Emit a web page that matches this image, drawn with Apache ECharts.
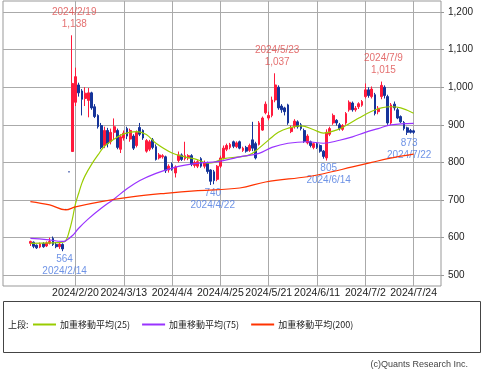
<!DOCTYPE html>
<html><head><meta charset="utf-8">
<script src="https://cdn.jsdelivr.net/npm/echarts@6/dist/echarts.min.js"></script>
<style>html,body{margin:0;padding:0;background:#fff}#c{width:483px;height:369px}</style>
</head><body><div id="c"></div>
<script>
const dates = ['2024/1/30','2024/1/31','2024/2/1','2024/2/2','2024/2/5','2024/2/6','2024/2/7','2024/2/8','2024/2/9','2024/2/13','2024/2/14','2024/2/15','2024/2/16','2024/2/19','2024/2/20','2024/2/21','2024/2/22','2024/2/26','2024/2/27','2024/2/28','2024/2/29','2024/3/1','2024/3/4','2024/3/5','2024/3/6','2024/3/7','2024/3/8','2024/3/11','2024/3/12','2024/3/13','2024/3/14','2024/3/15','2024/3/18','2024/3/19','2024/3/21','2024/3/22','2024/3/25','2024/3/26','2024/3/27','2024/3/28','2024/3/29','2024/4/1','2024/4/2','2024/4/3','2024/4/4','2024/4/5','2024/4/8','2024/4/9','2024/4/10','2024/4/11','2024/4/12','2024/4/15','2024/4/16','2024/4/17','2024/4/18','2024/4/19','2024/4/22','2024/4/23','2024/4/24','2024/4/25','2024/4/26','2024/4/30','2024/5/1','2024/5/2','2024/5/7','2024/5/8','2024/5/9','2024/5/10','2024/5/13','2024/5/14','2024/5/15','2024/5/16','2024/5/17','2024/5/20','2024/5/21','2024/5/22','2024/5/23','2024/5/24','2024/5/27','2024/5/28','2024/5/29','2024/5/30','2024/5/31','2024/6/3','2024/6/4','2024/6/5','2024/6/6','2024/6/7','2024/6/10','2024/6/11','2024/6/12','2024/6/13','2024/6/14','2024/6/17','2024/6/18','2024/6/19','2024/6/20','2024/6/21','2024/6/24','2024/6/25','2024/6/26','2024/6/27','2024/6/28','2024/7/1','2024/7/2','2024/7/3','2024/7/4','2024/7/5','2024/7/8','2024/7/9','2024/7/10','2024/7/11','2024/7/12','2024/7/16','2024/7/17','2024/7/18','2024/7/19','2024/7/22','2024/7/23','2024/7/24'];

// [open, close, low, high]
const ohlc = [
[585,590,578,592],[588,577,572,590],[580,573,570,582],[575,583,572,587],[584,576,573,588],
[578,586,575,590],[585,590,582,600],[598,582,578,603],[582,576,572,588],[576,583,570,586],
[582,570,564,585],[675,675,675,675],[775,775,775,775],[829,1010,829,1138],[960,1028,950,1052],
[1006,985,975,1012],[990,968,925,995],[970,984,950,1000],[965,985,920,998],[985,945,940,988],
[948,922,918,955],[925,895,890,928],[898,840,835,905],[845,885,838,895],[885,850,840,892],
[855,880,848,890],[880,895,860,917],[885,840,835,890],[835,868,825,875],[865,878,858,885],
[890,870,862,895],[862,885,855,890],[870,838,833,875],[845,880,840,885],[893,875,870,905],
[885,865,860,888],[830,858,826,862],[835,855,830,860],[860,840,835,865],[842,808,805,848],
[812,820,808,825],[815,818,810,822],[815,778,772,818],[780,790,773,795],[795,782,778,800],
[772,788,760,792],[805,820,800,829],[820,808,804,824],[810,818,805,855],[812,818,806,822],
[818,795,790,822],[792,800,786,805],[790,802,785,806],[810,790,786,814],[790,800,784,805],
[798,776,770,802],[780,750,740,782],[775,752,742,780],[755,790,750,793],[790,812,785,818],
[812,838,808,845],[835,845,830,850],[840,848,835,852],[855,843,838,858],[842,852,838,856],
[855,838,835,858],[832,838,828,842],[840,830,826,844],[832,845,828,850],[860,838,830,908],
[850,812,808,855],[848,905,845,910],[886,918,884,922],[932,955,928,962],[918,925,912,935],
[925,966,920,975],[966,1006,960,1037],[1000,945,940,1005],[950,940,932,955],[945,935,925,948],
[953,905,900,956],[882,893,878,898],[895,910,890,915],[908,895,890,912],[900,890,885,905],
[885,856,852,890],[852,870,848,875],[855,845,840,858],[840,850,835,853],[850,840,836,853],
[845,830,826,848],[830,816,810,833],[812,880,805,888],[875,890,870,895],[905,925,900,930],
[912,905,898,915],[900,890,885,905],[888,898,884,902],[905,930,900,934],[940,960,935,965],
[958,940,935,962],[940,944,935,950],[948,956,942,960],[952,962,948,966],[975,993,970,1010],
[993,978,972,1000],[975,995,970,1002],[980,930,925,985],[935,944,928,950],[975,1005,968,1015],
[1000,978,970,1005],[975,905,900,980],[905,953,900,958],[955,945,938,962],[940,918,915,945],
[922,908,905,925],[906,890,885,910],[892,880,873,895],[885,880,877,889],[884,880,876,887]
];

const ma25 = [['2024/1/30',585],['2024/2/7',586],['2024/2/14',588],['2024/2/15',592],['2024/2/16',615],['2024/2/19',648],['2024/2/20',690],['2024/2/21',718],['2024/2/22',745],['2024/2/26',765],['2024/2/28',795],['2024/3/1',820],['2024/3/5',843],['2024/3/8',862],['2024/3/13',876],['2024/3/19',882],['2024/3/25',874],['2024/3/28',851],['2024/4/4',825],['2024/4/10',815],['2024/4/16',807],['2024/4/19',798],['2024/4/23',800],['2024/4/26',810],['2024/5/8',815],['2024/5/13',820],['2024/5/16',838],['2024/5/21',860],['2024/5/24',880],['2024/5/29',891],['2024/6/4',897],['2024/6/10',887],['2024/6/13',878],['2024/6/19',886],['2024/6/24',898],['2024/6/28',918],['2024/7/4',936],['2024/7/9',945],['2024/7/12',948],['2024/7/18',945],['2024/7/24',931]];
const ma75 = [['2024/1/30',598],['2024/2/6',595],['2024/2/14',590],['2024/2/15',592],['2024/2/19',605],['2024/2/21',625],['2024/2/27',650],['2024/3/4',678],['2024/3/8',703],['2024/3/14',730],['2024/3/21',752],['2024/3/28',771],['2024/4/4',785],['2024/4/10',793],['2024/4/17',799],['2024/4/24',802],['2024/5/2',811],['2024/5/8',815],['2024/5/16',824],['2024/5/22',840],['2024/5/29',851],['2024/6/6',855],['2024/6/13',851],['2024/6/20',859],['2024/6/26',868],['2024/7/2',880],['2024/7/8',890],['2024/7/12',900],['2024/7/24',904]];
const ma200 = [['2024/1/30',696],['2024/2/7',687],['2024/2/15',674],['2024/2/20',682],['2024/3/4',696],['2024/3/18',709],['2024/4/2',718],['2024/4/16',725],['2024/5/8',732],['2024/5/20',748],['2024/6/6',762],['2024/6/13',770],['2024/6/26',788],['2024/7/4',800],['2024/7/11',810],['2024/7/24',822]];

const highMarks = [['2024/2/19',1138],['2024/5/23',1037],['2024/7/9',1015]];
const lowMarks = [['2024/2/14',564],['2024/4/22',740],['2024/6/14',805],['2024/7/22',873]];
const tickLabels = ['2024/2/20','2024/3/13','2024/4/4','2024/4/25','2024/5/21','2024/6/11','2024/7/2','2024/7/24'];
const yTicks = [500,600,700,800,900,1000,1100,1200];
const seriesNames = ['加重移動平均(25)','加重移動平均(75)','加重移動平均(200)'];

const PAD = 8;
const pre = [], post = [];
for (let i = 0; i < PAD; i++) { pre.push('pre' + i); post.push('post' + i); }
const cats = pre.concat(dates, post);
const blank = ['-','-','-','-'];
const candleData = pre.map(() => blank).concat(ohlc, post.map(() => blank));

const fmt = v => v.toLocaleString('en-US');
const isTick = (i, name) => tickLabels.indexOf(name) >= 0;
const FONT = '"Liberation Sans", Arial, sans-serif';
const CJK = '"Noto Sans CJK JP", sans-serif';

const chart = echarts.init(document.getElementById('c'), null, {renderer: 'canvas'});
chart.setOption({
  animation: false,
  backgroundColor: '#fff',
  grid: {left: 3, right: 42, top: 1, height: 285, show: true, borderColor: '#999', borderWidth: 1, containLabel: false},
  legend: {
    data: seriesNames, left: 33, top: 320, padding: 0, itemWidth: 23, itemHeight: 2, itemGap: 12, icon: 'rect',
    textStyle: {fontSize: 9, color: '#222', fontFamily: CJK, padding: [0, 0, 0, -1]}, selectedMode: false
  },
  xAxis: {
    type: 'category', data: cats, boundaryGap: true,
    axisLine: {show: false}, axisTick: {show: false, interval: isTick, alignWithLabel: true},
    axisLabel: {interval: isTick, fontSize: 10.5, color: '#222', margin: 2, fontFamily: FONT},
    splitLine: {show: true, interval: isTick, alignWithLabel: true, lineStyle: {color: '#aaa', width: 1}}
  },
  yAxis: {
    type: 'value', position: 'right', min: 471.5, max: 1229.2, scale: true,
    axisLine: {show: false},
    axisTick: {show: true, length: 3, customValues: yTicks, lineStyle: {color: '#999'}},
    axisLabel: {customValues: yTicks, formatter: v => fmt(v), fontSize: 10, color: '#222', margin: 7, fontFamily: FONT},
    splitLine: {show: true, lineStyle: {color: '#aaa', width: 1}}
  },
  series: [
    {type: 'candlestick', data: candleData, barWidth: 2.3,
     itemStyle: {color: '#ff1a3c', color0: '#15349a', borderColor: '#ff1a3c', borderColor0: '#15349a', borderColorDoji: '#15349a', borderWidth: 1}},
    {name: seriesNames[0], type: 'line', data: ma25, smooth: 0.4, showSymbol: false, lineStyle: {color: '#99cc00', width: 1.2}, itemStyle: {color: '#99cc00'}},
    {name: seriesNames[1], type: 'line', data: ma75, smooth: 0.4, showSymbol: false, lineStyle: {color: '#9933ff', width: 1.2}, itemStyle: {color: '#9933ff'}},
    {name: seriesNames[2], type: 'line', data: ma200, smooth: 0.4, showSymbol: false, lineStyle: {color: '#ff3300', width: 1.2}, itemStyle: {color: '#ff3300'}},
    {type: 'scatter', data: highMarks, symbolSize: 0, silent: true,
     label: {show: true, position: 'top', distance: 5, offset: [2, 0], lineHeight: 12, fontSize: 10, color: '#dd4b4b', fontFamily: FONT,
             formatter: p => p.value[0] + '\n' + fmt(p.value[1])}},
    {type: 'scatter', data: lowMarks, symbolSize: 0, silent: true,
     label: {show: true, position: 'bottom', distance: 2, offset: [2, 0], lineHeight: 12, fontSize: 10, color: '#4a78e0', fontFamily: FONT,
             formatter: p => fmt(p.value[1]) + '\n' + p.value[0]}}
  ],
  graphic: [
    {type: 'rect', shape: {x: 3.5, y: 301.5, width: 477, height: 51}, style: {fill: 'none', stroke: '#444', lineWidth: 1}},
    {type: 'text', x: 8, y: 320, style: {text: '上段:', fill: '#222', font: '9px ' + CJK}},
    {type: 'text', right: 15, top: 360, style: {text: '(c)Quants Research Inc.', fill: '#444', font: '9px ' + FONT}}
  ]
});
</script></body></html>
